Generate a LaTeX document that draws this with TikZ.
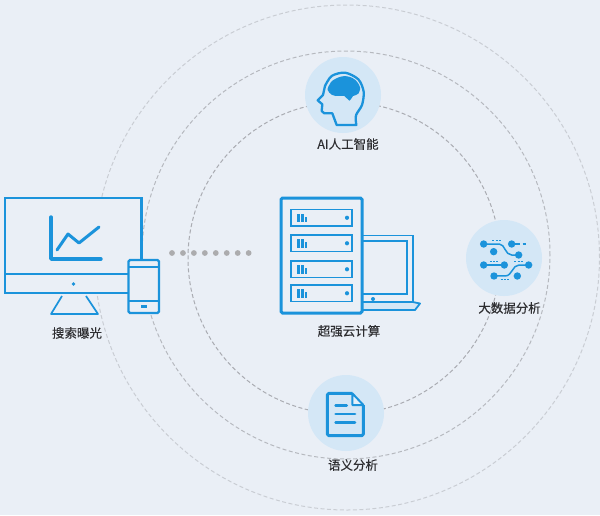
\documentclass[tikz,border=0pt]{standalone}
\usepackage{fontspec}
\setmainfont[FakeBold=0.3]{Noto Sans CJK SC}
\definecolor{pagebg}{RGB}{234,239,246}
\definecolor{iconblue}{RGB}{27,147,219}
\definecolor{discblue}{RGB}{212,231,246}
\definecolor{ringgray}{RGB}{170,172,178}
\definecolor{dotgray}{RGB}{172,172,174}
\definecolor{captiontext}{RGB}{45,45,48}
\tikzset{
  ring/.style={ringgray, line width=1pt, dash pattern=on 4pt off 2.5pt},
  icon/.style={iconblue, line width=2.2pt},
  softdisc/.style={circle, fill=discblue, minimum size=76pt, inner sep=0pt},
  caption/.style={captiontext, font=\fontsize{12.5}{14}\selectfont, inner sep=0pt},
  slot/.style={icon, line width=1.9pt, fill=pagebg}
}
\begin{document}
\begin{tikzpicture}[x=1pt,y=-1pt]
  \useasboundingbox [fill=pagebg] (0,0) rectangle (600,515);

  \draw [ring, draw opacity=0.5] (347,257.5) circle [radius=252.5pt];
  \draw [ring, draw opacity=0.8] (346,255) circle [radius=204pt];
  \draw [ring, draw opacity=1] (344,258) circle [radius=156pt];

  \node [softdisc] (brain) at (343,95) {};
  \node [softdisc] (data) at (504,258) {};
  \node [softdisc] (doc) at (346,413) {};

  \draw [icon, fill=pagebg] (5,198) rectangle (141.5,293);
  \draw [icon, line width=1.8pt] (5,274) -- (130,274);
  \fill [iconblue] (73.5,284) circle [radius=1.9pt];
  \draw [icon, line width=1.7pt, line join=round] (62,296) -- (51,314) -- (98,314) -- (86,296);
  \draw [icon, line width=3.4pt, line cap=round, line join=round] (51,217) -- (51,259) -- (101,259);
  \draw [icon, line width=3pt, line cap=round, line join=round] (57,250) -- (68,234) -- (79,243) -- (99,227);

  \draw [icon, fill=pagebg, rounded corners=1.5pt] (128.5,260) rectangle (159,313);
  \draw [icon, line width=1.8pt] (128.5,267) -- (159,267);
  \draw [icon, line width=1.8pt] (128.5,301) -- (159,301);
  \draw [icon] (141,306.5) -- (147,306.5);

  \foreach \i in {0,...,7}
    \fill [dotgray] (172+\i*10.95,253) circle [radius=2.9pt];

  \fill [discblue] (362,302) -- (420,303.5) -- (415,310) -- (362,310) -- cycle;
  \draw [icon, line width=1.8pt] (362,235.5) -- (412.7,235.5) -- (412.7,302) -- (362,302);
  \draw [icon, line width=1.8pt] (362,241) -- (407,241) -- (407,294) -- (362,294);
  \draw [icon, line width=1.8pt, line join=round] (412.7,302) -- (420,303.5) -- (415,310) -- (362,310);
  \fill [iconblue] (373,299) circle [radius=2pt];

  \draw [icon, line width=3pt, fill=pagebg, rounded corners=1.5pt] (281,198) rectangle (362,313);
  \foreach \top in {209.5,235,261,285} {
    \draw [slot] (291,\top) rectangle (352,\top+16.5);
    \fill [iconblue] (296.5,\top+4) rectangle ++(3,8.5);
    \fill [iconblue] (300.7,\top+4) rectangle ++(3,8.5);
    \fill [iconblue] (304.7,\top+7) rectangle ++(2.6,5.5);
    \fill [iconblue] (347,\top+8.25) circle [radius=2.1pt];
  }

  \begin{scope}[shift={(295,50)}, x=0.3333pt, y=-0.3333pt]
    \draw [icon, line width=2.3pt, line join=round] plot [smooth, tension=0.5] coordinates {(184,225) (183,196) (201,165) (206,125) (190,88) (150,68) (110,78) (90,108)}
      -- (84,135) -- (68,151) -- (82,163) -- (80,183) -- (88,190) -- (112,190) -- (125,225) -- cycle;
    \fill [iconblue] plot [smooth cycle, tension=0.8] coordinates {(100,110) (122,86) (162,80) (192,104) (191,130) (174,138) (163,152) (148,138) (122,138) (103,128)};
  \end{scope}

  \begin{scope}[shift={(455,210)}, x=0.3333pt, y=-0.3333pt]
    \draw [icon, line width=1.5pt] (86,102) -- (133,102) .. controls (150,102) and (150,135) .. (170,135) -- (191,135);
    \draw [icon, line width=1.5pt] (170,102) -- (195,102);
    \draw [icon, line width=1.5pt] (86,165) -- (148,165);
    \draw [icon, line width=1.5pt] (221,165) -- (192,165) .. controls (172,165) and (172,198) .. (150,198) -- (117,198);
    \foreach \x/\y in {112/92,105/155,178/155,137/208}
      \draw [icon, line width=1.2pt, dash pattern=on 2pt off 1.2pt] (\x,\y) -- ++(27,0);
    \draw [icon, line width=1.2pt] (203,102) -- (213,102);
    \foreach \x/\y in {86/102,116/125,170/102,191/135,86/165,148/165,221/165,117/198,187/198}
      \fill [iconblue] (\x,\y) circle [radius=3.7pt];
  \end{scope}

  \begin{scope}[shift={(295,365)}, x=0.3333pt, y=-0.3333pt]
    \fill [white, fill opacity=0.35] (172,85) -- (205,120) -- (172,120) -- cycle;
    \draw [icon, line width=3pt, line join=round, rounded corners=1.5pt] (172,85) -- (97,85) -- (97,212) -- (205,212) -- (205,120);
    \draw [icon, line width=2pt, line join=round] (172,85) -- (205,120) -- (172,120) -- cycle;
    \draw [icon, line width=2.8pt, line cap=round] (122,121) -- (155,121);
    \draw [icon, line width=2.8pt, line cap=round] (122,147) -- (180,147);
    \draw [icon, line width=2.8pt, line cap=round] (122,172) -- (180,172);
  \end{scope}

  \node [caption] (brainlabel) at (348,144) {AI人工智能};
  \node [caption] (datalabel) at (509.5,308) {大数据分析};
  \node [caption] (doclabel) at (353,465) {语义分析};
  \node [caption] (cloudlabel) at (349,331) {超强云计算};
  \node [caption] (screenlabel) at (77,333) {搜索曝光};
\end{tikzpicture}
\end{document}
